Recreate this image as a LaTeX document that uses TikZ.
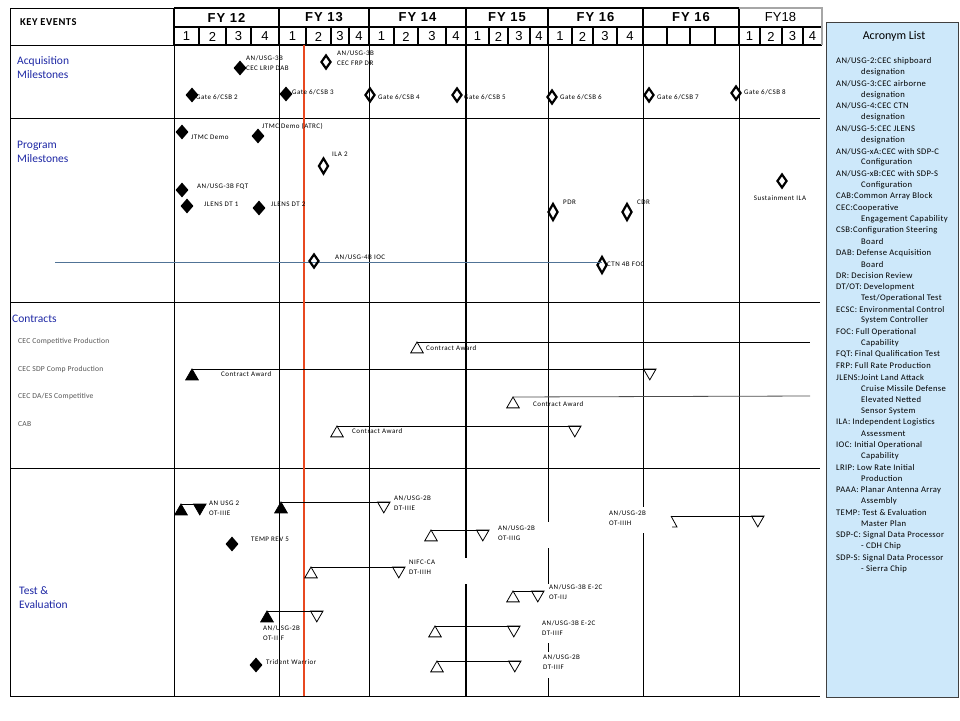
\documentclass[tikz,border=0pt]{standalone}
\usepackage{fontspec}
\setmainfont{Carlito}
\newfontfamily\hdrfont{Liberation Sans}
\usetikzlibrary{shapes.geometric}
\definecolor{secblue}{RGB}{30,40,165}
\definecolor{redl}{RGB}{232,72,32}
\definecolor{bluel}{RGB}{80,115,150}
\definecolor{acrbg}{RGB}{205,232,250}
\definecolor{rowgray}{RGB}{85,85,85}
\newcommand\acrow[3]{\node[acrt] (acr#1) at (#2,{61+11.29*(#1-1)}) {#3};}
\begin{document}
\begin{tikzpicture}[x=1pt,y=-1pt,
  lbl/.style={anchor=west, inner sep=0pt, font=\fontsize{7}{10}\selectfont\addfontfeature{LetterSpace=7}, align=left},
  rowl/.style={anchor=west, inner sep=0pt, font=\fontsize{7.6}{8}\selectfont\addfontfeature{LetterSpace=3}, text=rowgray},
  sec/.style={anchor=west, inner sep=0pt, font=\fontsize{11.5}{14}\selectfont, text=secblue, align=left},
  fyt/.style={inner sep=0pt, font=\hdrfont\bfseries\fontsize{13}{13}\selectfont\addfontfeature{LetterSpace=8}},
  qd/.style={inner sep=0pt, font=\hdrfont\fontsize{13}{13}\selectfont},
  acrt/.style={anchor=west, inner sep=0pt, font=\fontsize{8.6}{9}\selectfont\addfontfeature{LetterSpace=4}},
  gridl/.style={line width=1pt, black},
  thickl/.style={line width=2pt, black},
  qline/.style={line width=1.3pt, black},
  fdia/.style={diamond, fill=black, inner sep=0pt, minimum width=13pt, minimum height=15pt},
  odia/.style={diamond, draw=black, line width=2.2pt, inner sep=0pt, minimum width=10pt, minimum height=14pt},
  tri/.style={regular polygon, regular polygon sides=3, inner sep=0pt, outer sep=0pt, minimum size=14.5pt, draw=black, line width=0.8pt},
  ftriu/.style={tri, fill=black, anchor=corner 1},
  otriu/.style={tri, fill=white, anchor=corner 1},
  ftrid/.style={tri, fill=black, shape border rotate=180, anchor=corner 3},
  otrid/.style={tri, fill=white, shape border rotate=180, anchor=corner 3},
  link/.style={line width=0.8pt, black},
]
\useasboundingbox (0,0) rectangle (960,720);
\fill[white] (0,0) rectangle (960,720);

% ---------- header ----------
\draw[line width=0.8pt] (10,8) rectangle (174,45);
\node[anchor=west, inner sep=0pt, font=\bfseries\fontsize{10.5}{11}\selectfont\addfontfeature{LetterSpace=5}] (keyev) at (20,22) {KEY EVENTS};
\foreach \a/\b/\nm/\lab in {174/279/f12/FY 12, 279/369/f13/FY 13, 369/466/f14/FY 14, 466/548/f15/FY 15, 548/643/f16/FY 16, 643/739/f16b/FY 16}
  \node[fyt] (\nm) at ({(\a+\b)/2},17.5) {\lab};
\node[qd] (f18) at (780.5,17.5) {FY18};
\foreach \x in {199,226,251,306,331,349,394,418,446,489,508,530,572,593,617,667,690,715,760,782,803}
  \draw[qline] (\x,27) -- (\x,45);
\draw[thickl] (174,8) -- (739,8);
\draw[thickl] (174,27) -- (822,27);
\draw[thickl] (174,45) -- (822,45);
\foreach \x in {174,279,369,466,548,643,739} \draw[thickl] (\x,8) -- (\x,45);
\draw[gray!70, line width=1.2pt] (739,8) -- (822,8) -- (822,45);
\foreach \x/\t [count=\i] in {186.5/1, 212.5/2, 238.5/3, 265/4, 292.5/1, 318.5/2, 340/3, 359/4, 381.5/1, 406/2, 432/3, 456/4, 477.5/1, 498.5/2, 519/3, 539/4, 560/1, 582.5/2, 605/3, 630/4, 749.5/1, 771/2, 792.5/3, 812.5/4}
  \node[qd] (qn\i) at (\x,36.5) {\t};

% ---------- body grid ----------
\draw[gridl] (10,45) -- (10,696);
\draw[gridl] (10,45) -- (174,45);
\foreach \y in {118,302,468,696} \draw[gridl] (10,\y) -- (820,\y);
\foreach \x in {174,279,369,739} \draw[gridl] (\x,45) -- (\x,696);
\draw[thickl] (466,45) -- (466,558);
\draw[thickl] (466,584) -- (466,696);
\draw[gridl] (548,45) -- (548,522);
\draw[gridl] (548,548) -- (548,584);
\draw[gridl] (548,643) -- (548,652);
\draw[gridl] (548,678) -- (548,696);
\draw[gridl] (643,45) -- (643,507);
\draw[gridl] (643,533) -- (643,696);
\draw[redl, line width=2pt] (304,45) -- (304,696);

% ---------- section labels ----------
\node[sec] (sacq) at (17,68) {Acquisition\\Milestones};
\node[sec] (sprog) at (17,152) {Program\\Milestones};
\node[sec] (scon) at (12,319) {Contracts};
\node[sec] (stest) at (19,598) {Test \&\\Evaluation};
\node[rowl] (r1) at (18,341) {CEC Competitive Production};
\node[rowl] (r2) at (18,369) {CEC SDP Comp Production};
\node[rowl] (r3) at (18,396) {CEC DA/ES Competitive};
\node[rowl] (r4) at (18,424) {CAB};

% ---------- acquisition milestones ----------
\node[fdia] (d1) at (240,68) {};
\node[lbl] (t1) at (246,63.5) {AN/USG-3B\\CEC LRIP DAB};
\node[odia] (d2) at (326,62) {};
\node[lbl] (t2) at (337,58.5) {AN/USG-3B\\CEC FRP DR};
\node[fdia] (d3) at (192,95) {};  \node[lbl] (t3) at (196,97) {Gate 6/CSB 2};
\node[fdia] (d4) at (286,94) {};  \node[lbl] (t4) at (292,92) {Gate 6/CSB 3};
\node[odia] (d5) at (370,95) {};  \node[lbl] (t5) at (378,97) {Gate 6/CSB 4};
\node[odia] (d6) at (457,95) {};  \node[lbl] (t6) at (464,97) {Gate 6/CSB 5};
\node[odia] (d7) at (552,97) {};  \node[lbl] (t7) at (560,97) {Gate 6/CSB 6};
\node[odia] (d8) at (649,95) {};  \node[lbl] (t8) at (657,97) {Gate 6/CSB 7};
\node[odia] (d9) at (736,93) {};  \node[lbl] (t9) at (744,92) {Gate 6/CSB 8};

% ---------- program milestones ----------
\coordinate (bl0) at (55,262);
\node[odia, minimum height=17pt] (p10) at (602,265) {};
\draw[bluel, line width=1pt] (bl0) -- (bl0 -| p10);
\node[fdia] (p1) at (182,132) {};  \node[lbl] (pt1) at (191,137) {JTMC Demo};
\node[fdia] (p2) at (258,136) {};  \node[lbl] (pt2) at (262,126) {JTMC Demo (ATRC)};
\node[odia, minimum height=16pt] (p3) at (323.5,166) {};  \node[lbl] (pt3) at (332,154) {ILA 2};
\node[fdia] (p4) at (182,190) {};  \node[lbl] (pt4) at (197,187) {AN/USG-3B FQT};
\node[fdia] (p5) at (187,206) {};  \node[lbl] (pt5) at (204,204) {JLENS DT 1};
\node[fdia] (p6) at (259,208) {};  \node[lbl] (pt6) at (271,204) {JLENS DT 2};
\node[odia] (p7) at (314,261) {};  \node[lbl] (pt7) at (335,257) {AN/USG-4B IOC};
\node[odia, minimum height=17pt] (p8) at (553,212) {};  \node[lbl] (pt8) at (563,202) {PDR};
\node[odia, minimum height=17pt] (p9) at (627,212) {};  \node[lbl] (pt9) at (637,202) {CDR};
\node[lbl] (pt10) at (607,264) {CTN 4B FOC};
\node[odia] (p11) at (782,181) {};
\node[lbl, anchor=center] (pt11) at (780,198) {Sustainment ILA};

% ---------- contracts ----------
\node[otriu] (c1) at (417,342) {};
\coordinate (c1e) at (810,342);
\draw[link] (c1.corner 1) -- (c1e);
\node[lbl] (ct1) at (426,348) {Contract Award};
\node[ftriu] (c2) at (192,369) {};
\node[otrid] (c2d) at (643.5,369) {};
\draw[link] (c2.corner 1) -- (c2d.corner 2);
\node[lbl] (ct2) at (221,374) {Contract Award};
\node[otriu] (c3) at (513,397) {};
\coordinate (c3e) at (810,396);
\draw[link, black!70] (c3.corner 1) -- (c3e);
\node[lbl] (ct3) at (533,404) {Contract Award};
\node[otriu] (c4) at (337,426) {};
\node[otrid] (c4d) at (568.5,426) {};
\draw[link] (c4.corner 1) -- (c4d.corner 2);
\node[lbl] (ct4) at (352,431) {Contract Award};

% ---------- test & evaluation ----------
\node[ftriu] (e1) at (181,504) {};
\node[ftrid] (e1d) at (193.5,504) {};
\draw[link] (e1.corner 1) -- (e1d.corner 2);
\node[lbl] (et1) at (209,508) {AN USG 2\\OT-IIIE};
\node[ftriu] (e2) at (281,502) {};
\node[otrid] (e2d) at (377.5,502) {};
\draw[link] (e2.corner 1) -- (e2d.corner 2);
\node[lbl] (et2) at (394,503) {AN/USG-2B\\DT-IIIE};
\node[fdia] (e3) at (232,544) {};
\node[lbl] (et3) at (251,539) {TEMP REV 5};
\node[otriu] (e4) at (431,530) {};
\node[otrid] (e4d) at (476.5,530) {};
\draw[link] (e4.corner 1) -- (e4d.corner 2);
\node[lbl] (et4) at (498,533) {AN/USG-2B\\OT-IIIG};
\node[otriu] (e5) at (311,567) {};
\node[otrid] (e5d) at (392.5,567) {};
\draw[link] (e5.corner 1) -- (e5d.corner 2);
\node[lbl] (et5) at (409,567) {NIFC-CA\\DT-IIIH};
\node[otriu] (e6) at (513,591) {};
\node[otrid] (e6d) at (531.5,591) {};
\draw[link] (e6.corner 1) -- (e6d.corner 2);
\node[lbl] (et6) at (549,592) {AN/USG-3B E-2C\\OT-IIJ};
\node[ftriu] (e7) at (267,611) {};
\node[otrid] (e7d) at (310.5,611) {};
\draw[link] (e7.corner 1) -- (e7d.corner 2);
\node[lbl] (et7) at (263,633) {AN/USG-2B\\OT-IIIF};
\node[otriu] (e8) at (435,626) {};
\node[otrid] (e8d) at (507.5,626) {};
\draw[link] (e8.corner 1) -- (e8d.corner 2);
\node[lbl] (et8) at (542,628) {AN/USG-3B E-2C\\DT-IIIF};
\node[otriu] (e9) at (437,661) {};
\node[otrid] (e9d) at (508.5,661) {};
\draw[link] (e9.corner 1) -- (e9d.corner 2);
\node[lbl] (et9) at (543,662) {AN/USG-2B\\DT-IIIF};
\node[fdia] (e10) at (256,665) {};
\node[lbl] (et10) at (266,662) {Trident Warrior};
\coordinate (e11) at (671,516);
\node[otrid] (e11d) at (751.5,516) {};
\draw[link] (e11) -- (e11d.corner 2);
\draw[link] (e11) -- (677,527) -- (672,527);
\node[lbl] (et11) at (609,518) {AN/USG-2B\\OT-IIIH};

% ---------- acronym list ----------
\draw[fill=acrbg, draw=black!75, line width=0.9pt] (826,22) rectangle (958,697);
\node[inner sep=0pt, font=\fontsize{12}{13}\selectfont] (acrtitle) at (894,36) {Acronym List};
\acrow{1}{836}{AN/USG-2:CEC shipboard}
\acrow{2}{861}{designation}
\acrow{3}{836}{AN/USG-3:CEC airborne}
\acrow{4}{861}{designation}
\acrow{5}{836}{AN/USG-4:CEC CTN}
\acrow{6}{861}{designation}
\acrow{7}{836}{AN/USG-5:CEC JLENS}
\acrow{8}{861}{designation}
\acrow{9}{836}{AN/USG-xA:CEC with SDP-C}
\acrow{10}{861}{Configuration}
\acrow{11}{836}{AN/USG-xB:CEC with SDP-S}
\acrow{12}{861}{Configuration}
\acrow{13}{836}{CAB:Common Array Block}
\acrow{14}{836}{CEC:Cooperative}
\acrow{15}{861}{Engagement Capability}
\acrow{16}{836}{CSB:Configuration Steering}
\acrow{17}{861}{Board}
\acrow{18}{836}{DAB: Defense Acquisition}
\acrow{19}{861}{Board}
\acrow{20}{836}{DR: Decision Review}
\acrow{21}{836}{DT/OT: Development}
\acrow{22}{861}{Test/Operational Test}
\acrow{23}{836}{ECSC: Environmental Control}
\acrow{24}{861}{System Controller}
\acrow{25}{836}{FOC: Full Operational}
\acrow{26}{861}{Capability}
\acrow{27}{836}{FQT: Final Qualification Test}
\acrow{28}{836}{FRP: Full Rate Production}
\acrow{29}{836}{JLENS:Joint Land Attack}
\acrow{30}{861}{Cruise Missile Defense}
\acrow{31}{861}{Elevated Netted}
\acrow{32}{861}{Sensor System}
\acrow{33}{836}{ILA: Independent Logistics}
\acrow{34}{861}{Assessment}
\acrow{35}{836}{IOC: Initial Operational}
\acrow{36}{861}{Capability}
\acrow{37}{836}{LRIP: Low Rate Initial}
\acrow{38}{861}{Production}
\acrow{39}{836}{PAAA: Planar Antenna Array}
\acrow{40}{861}{Assembly}
\acrow{41}{836}{TEMP: Test \& Evaluation}
\acrow{42}{861}{Master Plan}
\acrow{43}{836}{SDP-C: Signal Data Processor}
\acrow{44}{861}{- CDH Chip}
\acrow{45}{836}{SDP-S: Signal Data Processor}
\acrow{46}{861}{- Sierra Chip}
\end{tikzpicture}
\end{document}
